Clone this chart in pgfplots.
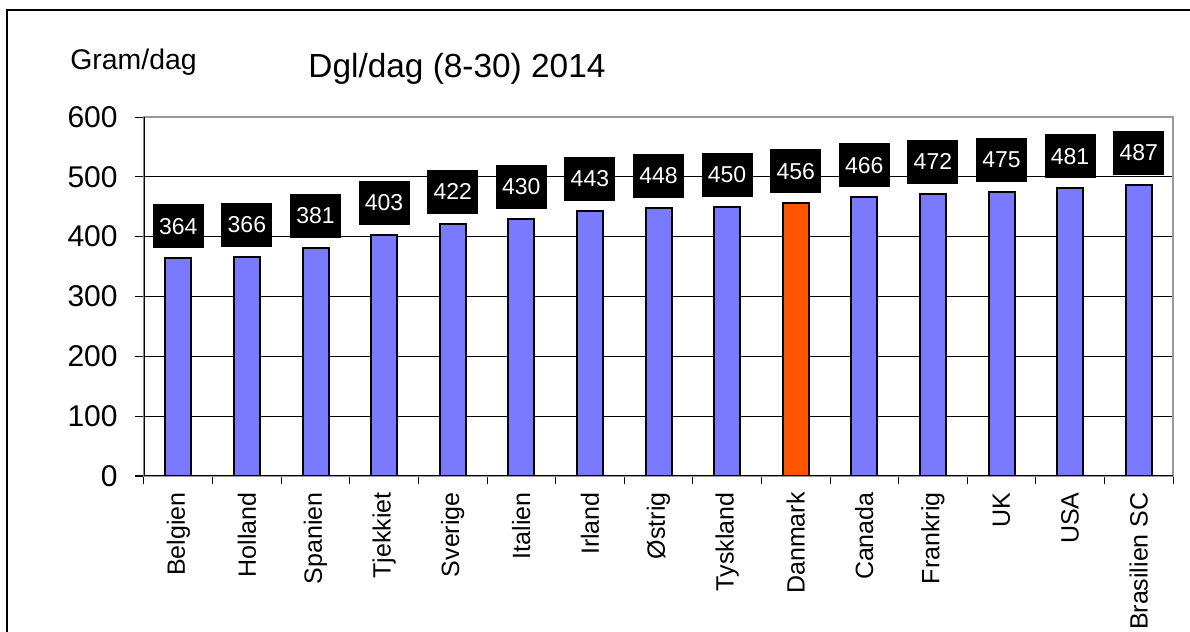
\documentclass[border=0pt]{standalone}
\usepackage{pgfplots}
\pgfplotsset{compat=1.18}
\usepackage{fontspec}
\setmainfont{Liberation Sans}
\definecolor{barblue}{RGB}{122,122,255}
\definecolor{barorange}{RGB}{255,85,0}
\begin{document}
\begin{tikzpicture}
\useasboundingbox (0,0) rectangle (595pt,316pt);
\fill[white] (0,0) rectangle (595pt,316pt);
\draw[line width=0.8pt] (3.5pt,0) -- (3.5pt,311pt) -- (595pt,311pt);
\node[anchor=base west, inner sep=0pt, font=\fontsize{14.2}{17}\selectfont] at (35pt,281.25pt) {Gram/dag};
\node[anchor=base west, inner sep=0pt, font=\fontsize{16.7}{20}\selectfont] at (154pt,277pt) {Dgl/dag (8-30) 2014};
\begin{axis}[
  at={(72pt,78pt)}, anchor=south west,
  width=514.5pt, height=179.5pt, scale only axis,
  /pgf/number format/assume math mode=true,
  xmin=-0.5, xmax=14.5, ymin=0, ymax=600,
  ytick={0,100,...,600},
  xtick={0,...,14},
  xticklabels={Belgien,Holland,Spanien,Tjekkiet,Sverige,Italien,Irland,Østrig,Tyskland,Danmark,Canada,Frankrig,UK,USA,Brasilien SC},
  minor xtick={-0.5,0.5,...,14.5},
  xtick pos=bottom, ytick pos=left,
  tick align=outside,
  major tick length=4.5pt,
  minor tick length=4pt,
  major x tick style={draw=none},
  minor x tick style={black, line width=0.5pt},
  ytick style={black, line width=0.5pt},
  axis line style={gray!80, line width=0.6pt},
  ymajorgrids,
  grid style={black, line width=0.5pt},
  xticklabel style={rotate=90, anchor=east, inner sep=0pt, font=\fontsize{12.5}{15}\selectfont},
  xticklabel shift=3.5pt,
  yticklabel style={anchor=east, inner sep=0pt, font=\fontsize{15}{18}\selectfont},
  yticklabel shift=8.5pt,
  ybar, bar width=13pt, bar shift=0pt,
  nodes near coords,
  every node near coord/.append style={fill=black, text=white, minimum width=25.5pt, minimum height=22pt, inner sep=0pt, anchor=south, yshift=4.5pt, font=\fontsize{11.5}{13}\selectfont},
]
\addplot[fill=barblue, draw=black, line width=1pt] coordinates {
(0,364) (1,366) (2,381) (3,403) (4,422) (5,430) (6,443) (7,448) (8,450)
(10,466) (11,472) (12,475) (13,481) (14,487)};
\addplot[fill=barorange, draw=black, line width=1pt] coordinates {(9,456)};
\draw[black, line width=0.6pt] (rel axis cs:0,1) -- (rel axis cs:0,0) -- (rel axis cs:1,0);
\end{axis}
\end{tikzpicture}
\end{document}
